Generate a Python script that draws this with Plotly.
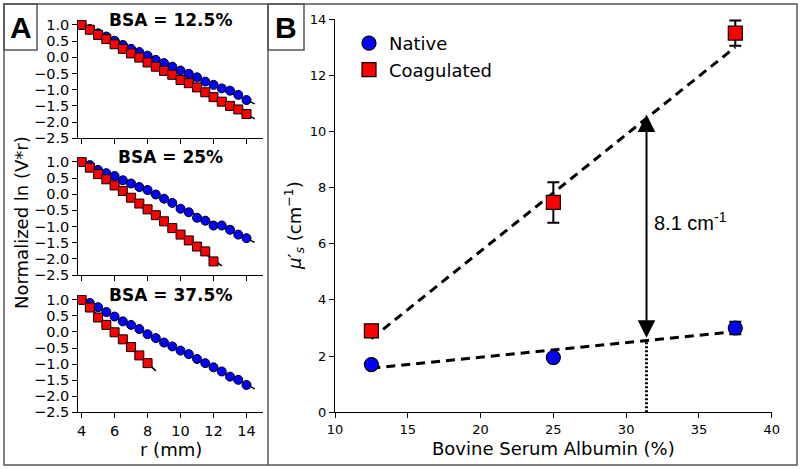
import plotly.graph_objects as go

W, H = 800, 469

# ---- panel A data: normalized ln(V*r) vs r ----
r_vals = [4, 4.5, 5, 5.5, 6, 6.5, 7, 7.5, 8, 8.5, 9, 9.5, 10, 10.5, 11, 11.5, 12, 12.5, 13, 13.5, 14]

native_125 = [1.0, 0.87, 0.74, 0.64, 0.51, 0.38, 0.26, 0.16, 0.05, -0.08, -0.18, -0.29, -0.41,
              -0.51, -0.62, -0.75, -0.85, -0.96, -1.03, -1.16, -1.32]
coag_125 = [1.0, 0.85, 0.69, 0.56, 0.40, 0.26, 0.12, -0.01, -0.16, -0.29, -0.42, -0.54, -0.70,
            -0.80, -0.93, -1.08, -1.23, -1.37, -1.50, -1.61, -1.75]
native_25 = [1.0, 0.90, 0.75, 0.65, 0.56, 0.43, 0.33, 0.22, 0.13, -0.01, -0.14, -0.27, -0.45,
             -0.56, -0.73, -0.82, -0.97, -0.97, -1.10, -1.25, -1.36]
coag_25 = [1.0, 0.82, 0.62, 0.46, 0.27, 0.10, -0.11, -0.29, -0.47, -0.65, -0.84, -1.05, -1.25,
           -1.43, -1.62, -1.77, -2.08]
native_375 = [1.0, 0.90, 0.77, 0.62, 0.48, 0.33, 0.22, 0.09, -0.07, -0.19, -0.33, -0.45, -0.58,
              -0.69, -0.84, -0.97, -1.10, -1.23, -1.39, -1.49, -1.65]
coag_375 = [1.0, 0.76, 0.45, 0.22, -0.01, -0.23, -0.47, -0.73, -0.97]

# fit line end points (r, value)
fit_native_125 = ([4, 14.5], [1.02, -1.44])
fit_coag_125 = ([4, 14.5], [1.0, -1.90])
fit_native_25 = ([4, 14.5], [1.02, -1.49])
fit_coag_25 = ([4, 12.5], [1.0, -2.22])
fit_native_375 = ([4, 14.5], [1.0, -1.77])
fit_coag_375 = ([4, 8.5], [1.0, -1.21])

panel_a_titles = ["BSA = 12.5%", "BSA = 25%", "BSA = 37.5%"]

# ---- panel B data: reduced scattering coefficient ----
bsa = [12.5, 25, 37.5]
native_mus = [1.7, 1.95, 3.0]
native_err = [0.08, 0.1, 0.22]
coag_mus = [2.9, 7.47, 13.5]
coag_err = [0.2, 0.72, 0.45]

fit_x = [12.5, 37.5]
native_fit = [1.57, 2.87]
coag_fit = [2.62, 13.0]

arrow_x = 31.4
arrow_top = 10.6
arrow_bottom = 2.6
diff_label = "8.1 cm<sup>-1</sup>"

BLUE = "#0000ff"
RED = "#ff0000"
MPL = "DejaVu Sans"
ARIAL = "Liberation Sans, Arial"


def fx(px):
    return px / W


def fy(py):
    return 1 - py / H


fig = go.Figure()

# panel A subplots
subplots = [
    ("x", "y", native_125, coag_125, fit_native_125, fit_coag_125),
    ("x2", "y2", native_25, coag_25, fit_native_25, fit_coag_25),
    ("x3", "y3", native_375, coag_375, fit_native_375, fit_coag_375),
]
for xa, ya, nat, coag, fn, fc in subplots:
    for fit in (fn, fc):
        fig.add_trace(go.Scatter(x=fit[0], y=fit[1], mode="lines", xaxis=xa, yaxis=ya,
                                 line=dict(color="black", width=1.5), showlegend=False,
                                 hoverinfo="skip"))
    fig.add_trace(go.Scatter(x=r_vals[:len(nat)], y=nat, mode="markers", xaxis=xa, yaxis=ya,
                             marker=dict(symbol="circle", size=9, color=BLUE,
                                         line=dict(color="black", width=1)),
                             showlegend=False))
    fig.add_trace(go.Scatter(x=r_vals[:len(coag)], y=coag, mode="markers", xaxis=xa, yaxis=ya,
                             marker=dict(symbol="square", size=9, color=RED,
                                         line=dict(color="black", width=1)),
                             showlegend=False))

# panel B
fig.add_trace(go.Scatter(x=fit_x, y=native_fit, mode="lines", xaxis="x4", yaxis="y4",
                         line=dict(color="black", width=3, dash="9px,6px"), showlegend=False))
fig.add_trace(go.Scatter(x=fit_x, y=coag_fit, mode="lines", xaxis="x4", yaxis="y4",
                         line=dict(color="black", width=3, dash="9px,6px"), showlegend=False))
fig.add_trace(go.Scatter(x=[arrow_x, arrow_x], y=[0, arrow_bottom - 0.05], mode="lines",
                         xaxis="x4", yaxis="y4",
                         line=dict(color="black", width=3, dash="2px,2px"), showlegend=False))
fig.add_trace(go.Scatter(x=bsa, y=native_mus, mode="markers", xaxis="x4", yaxis="y4",
                         name="Native", legendgroup="n",
                         error_y=dict(type="data", array=native_err, color="black",
                                      thickness=2, width=6),
                         marker=dict(symbol="circle", size=14, color=BLUE,
                                     line=dict(color="black", width=1.2))))
fig.add_trace(go.Scatter(x=bsa, y=coag_mus, mode="markers", xaxis="x4", yaxis="y4",
                         name="Coagulated", legendgroup="c",
                         error_y=dict(type="data", array=coag_err, color="black",
                                      thickness=2, width=6),
                         marker=dict(symbol="square", size=14, color=RED,
                                     line=dict(color="black", width=1.2))))

axis_common = dict(showline=True, linecolor="black", linewidth=1.2, ticks="outside",
                   ticklen=5, tickwidth=1.2, tickcolor="black", showgrid=False,
                   zeroline=False, mirror=False, automargin=False)

a_x_dom = [fx(78.3), fx(263)]
a_y_doms = [[fy(138.3), fy(20)], [fy(275), fy(157)], [fy(412.3), fy(295)]]

layout_axes = {}
for i, dom in enumerate(a_y_doms):
    sfx = "" if i == 0 else str(i + 1)
    layout_axes["xaxis" + sfx] = dict(axis_common, domain=a_x_dom, range=[3.8, 15.0],
                                      anchor="y" + sfx, tickvals=[4, 6, 8, 10, 12, 14],
                                      showticklabels=(i == 2),
                                      tickfont=dict(family=MPL, size=14.5, color="black"))
    layout_axes["yaxis" + sfx] = dict(axis_common, domain=dom, range=[-2.5, 1.15],
                                      anchor="x" + sfx, dtick=0.5, tick0=0,
                                      tickformat=".1f",
                                      tickfont=dict(family=MPL, size=14.5, color="black"))

layout_axes["xaxis4"] = dict(axis_common, domain=[fx(335), fx(771.7)], range=[10, 40],
                             anchor="y4", dtick=5,
                             tickfont=dict(family=MPL, size=13, color="black"))
layout_axes["yaxis4"] = dict(axis_common, domain=[fy(412.3), fy(19)], range=[0, 14],
                             anchor="x4", dtick=2,
                             tickfont=dict(family=MPL, size=13, color="black"))

border = dict(color="#555555", width=1.5)
shapes = [
    dict(type="rect", xref="paper", yref="paper", x0=fx(4), x1=fx(797), y0=fy(465), y1=fy(4),
         line=border),
    dict(type="line", xref="paper", yref="paper", x0=fx(268), x1=fx(268), y0=fy(465), y1=fy(4),
         line=border),
    dict(type="rect", xref="paper", yref="paper", x0=fx(4), x1=fx(37), y0=fy(50), y1=fy(4),
         line=border),
    dict(type="rect", xref="paper", yref="paper", x0=fx(268), x1=fx(304), y0=fy(50), y1=fy(4),
         line=border),
]


def label(text, px, py, size, family=MPL, angle=0):
    return dict(text=text, x=fx(px), y=fy(py), xref="paper", yref="paper", showarrow=False,
                xanchor="center", yanchor="middle", textangle=angle,
                font=dict(family=family, size=size, color="black"))


annotations = [
    label("<b>A</b>", 20.5, 27, 30, ARIAL),
    label("<b>B</b>", 286, 27, 30, ARIAL),
    label("Normalized ln (V*r)", 21, 223, 18, angle=-90),
    label("r (mm)", 170.6, 449.5, 18),
    label("Bovine Serum Albumin (%)", 553, 448, 18),
    label("<i>μ</i>′<sub><i>s</i></sub> (cm<sup>−1</sup>)", 294, 226, 18, angle=-90),
    dict(text=diff_label, x=arrow_x + 0.4, y=6.8, xref="x4", yref="y4", xanchor="left",
         yanchor="middle", showarrow=False, font=dict(family=ARIAL, size=20, color="black")),
    dict(text="", x=arrow_x, y=arrow_top, ax=arrow_x, ay=arrow_bottom, xref="x4", yref="y4",
         axref="x4", ayref="y4", showarrow=True, arrowside="end+start", arrowhead=2,
         startarrowhead=2, arrowsize=1.75, startarrowsize=1.75, arrowwidth=2,
         arrowcolor="black"),
]
tops = [20, 157, 295]
for title, top in zip(panel_a_titles, tops):
    annotations.append(label("<b>" + title + "</b>", 170.6, top, 17))

fig.update_layout(
    width=W, height=H,
    margin=dict(l=0, r=0, t=0, b=0, autoexpand=False),
    paper_bgcolor="white", plot_bgcolor="rgba(0,0,0,0)",
    shapes=shapes, annotations=annotations,
    legend=dict(x=fx(349), y=fy(25), xanchor="left", yanchor="top",
                bgcolor="rgba(0,0,0,0)", tracegroupgap=0,
                font=dict(family=MPL, size=18, color="black")),
    **layout_axes,
)

# page body has a default 8px margin; drop it so the figure sits at the window corner
fig.write_html("out.html", config={"displayModeBar": False},
               post_script="document.body.style.margin='0';")
